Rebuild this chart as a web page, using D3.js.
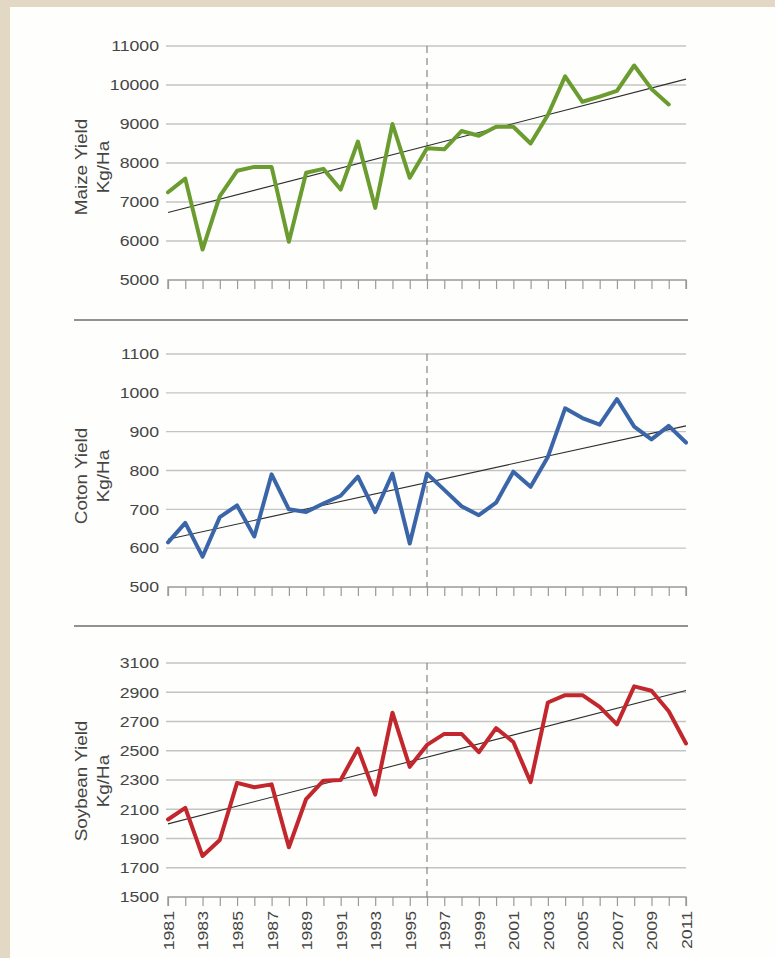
<!DOCTYPE html>
<html>
<head>
<meta charset="utf-8">
<script src="https://cdn.jsdelivr.net/npm/d3@7"></script>
<style>
  html, body { margin: 0; padding: 0; background: #e2d8c4; }
  svg { display: block; }
</style>
</head>
<body>
<svg id="chart" width="775" height="958"></svg>
<script>
// Crop yields in Kg/Ha, 1981–2011
const years = [1981, 1982, 1983, 1984, 1985, 1986, 1987, 1988, 1989, 1990,
               1991, 1992, 1993, 1994, 1995, 1996, 1997, 1998, 1999, 2000,
               2001, 2002, 2003, 2004, 2005, 2006, 2007, 2008, 2009, 2010, 2011];
const yearLabels = [1981, 1983, 1985, 1987, 1989, 1991, 1993, 1995, 1997,
                    1999, 2001, 2003, 2005, 2007, 2009, 2011];
const markerYear = 1996;

const maize = [7250, 7600, 5780, 7150, 7800, 7900, 7900, 5980, 7750, 7850,
               7320, 8550, 6850, 9000, 7620, 8380, 8350, 8820, 8700, 8930,
               8930, 8500, 9230, 10220, 9570, 9700, 9850, 10500, 9900, 9500, null];
const cotton = [615, 665, 578, 680, 710, 630, 790, 700, 693, 715,
                735, 784, 693, 792, 612, 792, 750, 708, 685, 717,
                797, 758, 835, 960, 935, 918, 984, 913, 880, 915, 872];
const soybean = [2030, 2110, 1780, 1890, 2280, 2250, 2270, 1840, 2170, 2295,
                 2300, 2515, 2200, 2760, 2390, 2540, 2615, 2615, 2490, 2655,
                 2560, 2285, 2830, 2880, 2880, 2800, 2680, 2940, 2910, 2770, 2550];

// Linear trend end points (first and last year)
const trendYears = [1981, 2011];
const maizeTrend = [6730, 10150];
const cottonTrend = [623, 915];
const soybeanTrend = [2000, 2912];

const maizeTicks = [5000, 6000, 7000, 8000, 9000, 10000, 11000];
const cottonTicks = [500, 600, 700, 800, 900, 1000, 1100];
const soybeanTicks = [1500, 1700, 1900, 2100, 2300, 2500, 2700, 2900, 3100];

const svg = d3.select("#chart");
const FONT = "'Liberation Sans', Arial, Helvetica, sans-serif";
const STRETCH = 1.18;   // wide lettering
const textColor = "#454545";

// Panel background
svg.append("rect").attr("x", 10).attr("y", 7).attr("width", 765).attr("height", 951)
  .attr("fill", "#fefefc");

const x = d3.scaleLinear().domain([1981, 2011]).range([168, 686]);

const panels = [
  { title: "Maize Yield", values: maize, trend: maizeTrend, ticks: maizeTicks,
    color: "#6b9c2f", range: [280, 46], titleY: 167 },
  { title: "Coton Yield", values: cotton, trend: cottonTrend, ticks: cottonTicks,
    color: "#3a66a9", range: [587, 354], titleY: 476 },
  { title: "Soybean Yield", values: soybean, trend: soybeanTrend, ticks: soybeanTicks,
    color: "#c1272d", range: [897, 663], titleY: 781 }
];

// Separators between panels
[320, 626].forEach(yy => {
  svg.append("line").attr("x1", 74).attr("x2", 688).attr("y1", yy).attr("y2", yy)
    .attr("stroke", "#6e6e6e").attr("stroke-width", 1.6);
});

panels.forEach((p, i) => {
  const y = d3.scaleLinear()
    .domain([p.ticks[0], p.ticks[p.ticks.length - 1]])
    .range(p.range);
  const g = svg.append("g");

  // Horizontal gridlines (skip the baseline, drawn by the x axis)
  g.append("g").selectAll("line").data(p.ticks.slice(1)).join("line")
    .attr("x1", x(1981) - 2).attr("x2", x(2011))
    .attr("y1", d => y(d)).attr("y2", d => y(d))
    .attr("stroke", "#c4c4c4").attr("stroke-width", 1.4);

  // Y axis labels
  const yAxis = g.append("g").attr("transform", `translate(${x(1981)},0)`)
    .call(d3.axisLeft(y).tickValues(p.ticks).tickSize(0).tickPadding(0).tickFormat(d3.format("d")));
  yAxis.select(".domain").remove();
  yAxis.selectAll("text")
    .attr("x", -9 / STRETCH)
    .attr("transform", `scale(${STRETCH},1)`)
    .attr("font-family", FONT).attr("font-size", 15).attr("fill", textColor);

  // X axis with a tick at every year
  const xAxis = g.append("g").attr("transform", `translate(0,${p.range[0]})`)
    .call(d3.axisBottom(x).tickValues(years).tickSize(9).tickFormat(""));
  xAxis.select(".domain").attr("stroke", "#9a9a9a").attr("stroke-width", 1.4)
    .attr("d", `M${x(1981)},9V0H${x(2011)}V9`);
  xAxis.selectAll(".tick line").attr("stroke", "#9a9a9a").attr("stroke-width", 1.2);

  // Year labels on the bottom panel only
  if (i === panels.length - 1) {
    const lab = g.append("g").attr("transform", `translate(0,${p.range[0]})`)
      .call(d3.axisBottom(x).tickValues(yearLabels).tickSize(0).tickFormat(d3.format("d")));
    lab.select(".domain").remove();
    lab.selectAll("text")
      .attr("transform", `rotate(-90) scale(${STRETCH},1)`)
      .attr("text-anchor", "end")
      .attr("x", -14 / STRETCH).attr("y", 0).attr("dy", "0.36em")
      .attr("font-family", FONT).attr("font-size", 15).attr("fill", textColor);
  }

  // Dashed marker year
  g.append("line")
    .attr("x1", x(markerYear)).attr("x2", x(markerYear))
    .attr("y1", p.range[1]).attr("y2", p.range[0])
    .attr("stroke", "#7a7a7a").attr("stroke-width", 1.1)
    .attr("stroke-dasharray", "7,5");

  // Trend line
  g.append("path")
    .datum(trendYears.map((yr, k) => [yr, p.trend[k]]))
    .attr("fill", "none").attr("stroke", "#2e2e2e").attr("stroke-width", 1.1)
    .attr("d", d3.line().x(d => x(d[0])).y(d => y(d[1])));

  // Yield series
  g.append("path")
    .datum(years.map((yr, k) => [yr, p.values[k]]))
    .attr("fill", "none").attr("stroke", p.color).attr("stroke-width", 4)
    .attr("stroke-linejoin", "round").attr("stroke-linecap", "round")
    .attr("d", d3.line().defined(d => d[1] != null).x(d => x(d[0])).y(d => y(d[1])));

  // Axis title
  const t = g.append("text")
    .attr("transform", `translate(0,${p.titleY}) rotate(-90) scale(${STRETCH},1)`)
    .attr("text-anchor", "middle")
    .attr("font-family", FONT).attr("font-size", 16).attr("fill", textColor);
  t.append("tspan").attr("x", 0).attr("y", 87).text(p.title);
  t.append("tspan").attr("x", 0).attr("y", 109).text("Kg/Ha");
});
</script>
</body>
</html>
